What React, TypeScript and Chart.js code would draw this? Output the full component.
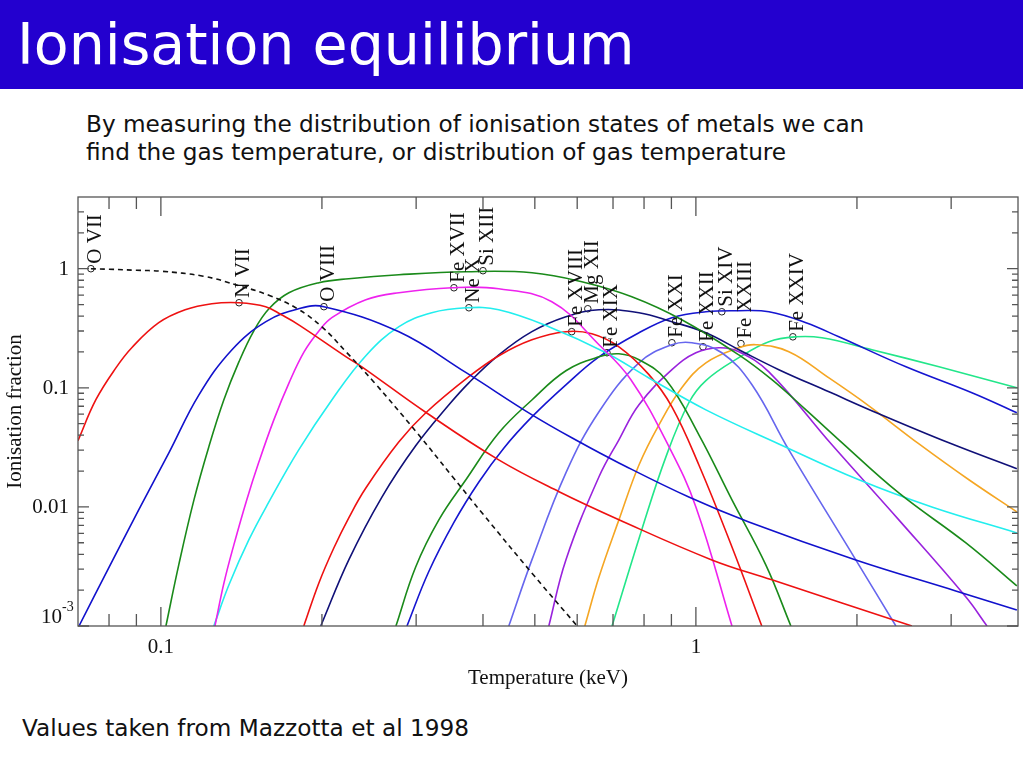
import React, { useEffect, useRef } from "react";
import { Chart, registerables } from "chart.js";
Chart.register(...registerables);

// Temperature (keV) and ionisation fraction for each ion (Mazzotta et al 1998)
const oviiT = [0.074, 0.08, 0.09, 0.1, 0.12, 0.14, 0.16, 0.18, 0.2, 0.222, 0.25, 0.3, 0.35, 0.4, 0.5, 0.6];
const oviiF = [1.0, 0.99, 0.97, 0.953, 0.865, 0.72, 0.593, 0.461, 0.325, 0.2, 0.112, 0.0428, 0.0182, 0.0087, 0.0026, 0.001];

const nviiT = [0.07, 0.0756, 0.0824, 0.0883, 0.0991, 0.111, 0.1245, 0.14, 0.157, 0.168, 0.181, 0.222, 0.2375, 0.313, 0.428, 0.555, 0.718, 1.071, 1.387, 2.534];
const nviiF = [0.036, 0.0794, 0.147, 0.218, 0.352, 0.452, 0.508, 0.518, 0.48, 0.41, 0.338, 0.182, 0.15, 0.062, 0.0248, 0.0134, 0.0078, 0.00359, 0.00244, 0.001];

const oviiiT = [0.0703, 0.0799, 0.0909, 0.1035, 0.1178, 0.1358, 0.1572, 0.181, 0.2017, 0.2786, 0.372, 0.494, 0.605, 0.718, 0.97, 1.256, 1.99, 3.06, 3.98];
const oviiiF = [0.001, 0.00307, 0.00944, 0.0284, 0.0873, 0.209, 0.359, 0.461, 0.48, 0.295, 0.134, 0.0593, 0.0352, 0.0234, 0.0121, 0.00748, 0.00359, 0.00197, 0.00136];

const sixiiiT = [0.1022, 0.108, 0.1153, 0.1229, 0.1311, 0.1399, 0.1492, 0.1592, 0.1735, 0.1974, 0.2245, 0.2786, 0.372, 0.494, 0.612, 0.759, 0.941, 1.203, 1.387, 1.606, 1.85, 2.395, 3.197, 3.98];
const sixiiiF = [0.001, 0.00326, 0.01145, 0.0319, 0.079, 0.165, 0.301, 0.461, 0.628, 0.763, 0.824, 0.89, 0.944, 0.926, 0.778, 0.582, 0.373, 0.189, 0.117, 0.0653, 0.0366, 0.0131, 0.00498, 0.00217];

const fexviiT = [0.1262, 0.1312, 0.1369, 0.1447, 0.1525, 0.1626, 0.1736, 0.1853, 0.1974, 0.2087, 0.2416, 0.2786, 0.35, 0.428, 0.538, 0.659, 0.756, 0.891, 1.0, 1.168];
const fexviiF = [0.001, 0.0023, 0.0048, 0.01145, 0.0239, 0.0538, 0.11, 0.201, 0.3, 0.388, 0.549, 0.629, 0.692, 0.679, 0.528, 0.23, 0.117, 0.0319, 0.01, 0.001];

const nexT = [0.1256, 0.134, 0.146, 0.1592, 0.181, 0.2087, 0.2416, 0.2786, 0.3208, 0.372, 0.428, 0.531, 0.679, 0.817, 1.044, 1.429, 2.017, 2.761, 3.98];
const nexF = [0.001, 0.00221, 0.00528, 0.011, 0.0301, 0.079, 0.186, 0.326, 0.427, 0.47, 0.452, 0.326, 0.197, 0.121, 0.0653, 0.0338, 0.0169, 0.01, 0.00605];

const fexviiiT = [0.185, 0.1974, 0.2105, 0.2245, 0.2416, 0.2786, 0.3128, 0.3764, 0.4283, 0.4937, 0.5715, 0.639, 0.718, 0.817, 0.902, 1.013, 1.168, 1.328];
const fexviiiF = [0.001, 0.0023, 0.00452, 0.0081, 0.0144, 0.0352, 0.0617, 0.124, 0.186, 0.253, 0.296, 0.284, 0.221, 0.129, 0.0692, 0.0225, 0.00461, 0.001];

const mgxiiT = [0.199, 0.2245, 0.2589, 0.2994, 0.3455, 0.3764, 0.4283, 0.4937, 0.5715, 0.659, 0.7827, 0.902, 1.044, 1.203, 1.429, 1.773, 2.198, 2.971, 3.98];
const mgxiiF = [0.001, 0.00359, 0.0121, 0.0326, 0.072, 0.11, 0.189, 0.296, 0.395, 0.452, 0.427, 0.359, 0.29, 0.209, 0.142, 0.0925, 0.0605, 0.0345, 0.0209];

const fexixT = [0.275, 0.2994, 0.3308, 0.3716, 0.4283, 0.4937, 0.5715, 0.659, 0.718, 0.7827, 0.879, 1.013, 1.168, 1.351, 1.505];
const fexixF = [0.001, 0.00313, 0.00778, 0.0169, 0.0419, 0.079, 0.139, 0.182, 0.193, 0.172, 0.117, 0.0403, 0.01145, 0.00326, 0.001];

const sixivT = [0.2884, 0.3165, 0.3534, 0.393, 0.4378, 0.4937, 0.5715, 0.659, 0.7827, 0.902, 1.044, 1.203, 1.369, 1.606, 1.85, 2.47, 3.28, 3.98];
const sixivF = [0.001, 0.00284, 0.00748, 0.0162, 0.0313, 0.057, 0.106, 0.182, 0.29, 0.388, 0.435, 0.444, 0.435, 0.352, 0.268, 0.15, 0.0908, 0.0617];

const fexxiT = [0.447, 0.4937, 0.5715, 0.659, 0.7827, 0.902, 0.983, 1.118, 1.273, 1.492, 1.99, 2.365];
const fexxiF = [0.001, 0.00359, 0.0193, 0.063, 0.162, 0.23, 0.239, 0.197, 0.106, 0.0301, 0.00359, 0.001];

const fexxiiT = [0.531, 0.5715, 0.659, 0.718, 0.7827, 0.902, 1.0, 1.104, 1.203, 1.369, 1.796, 2.395, 3.197, 3.5];
const fexxiiF = [0.001, 0.00359, 0.0179, 0.0366, 0.072, 0.142, 0.197, 0.217, 0.201, 0.136, 0.0332, 0.00778, 0.00175, 0.001];

const fexxiiiT = [0.62, 0.659, 0.718, 0.7827, 0.853, 0.941, 1.044, 1.203, 1.295, 1.492, 1.773, 2.105, 2.612, 3.238, 3.98];
const fexxiiiF = [0.001, 0.00258, 0.00778, 0.0225, 0.0489, 0.1, 0.162, 0.217, 0.23, 0.201, 0.121, 0.0706, 0.0338, 0.0169, 0.00908];

const fexxivT = [0.697, 0.792, 0.879, 0.97, 1.044, 1.203, 1.369, 1.538, 1.72, 2.133, 2.847, 3.98];
const fexxivF = [0.001, 0.00641, 0.0263, 0.0749, 0.115, 0.179, 0.244, 0.268, 0.263, 0.209, 0.15, 0.1];

// Ion labels at their peak markers
const labelNames = ["O VII", "N VII", "O VIII", "Fe XVII", "Ne X", "Si XIII", "Fe XVIII", "Mg XII", "Fe XIX", "Fe XXI", "Fe XXII", "Si XIV", "Fe XXIII", "Fe XXIV"];
const labelT = [0.074, 0.14, 0.2017, 0.353, 0.3765, 0.4, 0.586, 0.628, 0.682, 0.902, 1.031, 1.118, 1.214, 1.518];
const labelF = [1.0, 0.518, 0.48, 0.692, 0.47, 0.962, 0.296, 0.461, 0.197, 0.239, 0.221, 0.435, 0.235, 0.268];

// Axis ticks
const xMajor = [0.1, 1];
const xMinor = [0.08, 0.09, 0.2, 0.3, 0.4, 0.5, 0.6, 0.7, 0.8, 0.9, 2, 3];
const xTickLabels = ["0.1", "1"];
const yMajor = [0.001, 0.01, 0.1, 1];
const yMinor = [0.002, 0.003, 0.004, 0.005, 0.006, 0.007, 0.008, 0.009, 0.02, 0.03, 0.04, 0.05, 0.06, 0.07, 0.08, 0.09, 0.2, 0.3, 0.4, 0.5, 0.6, 0.7, 0.8, 0.9, 2, 3];
const yTickLabels = ["10|-3", "0.01", "0.1", "1"];

const series = [
  { T: oviiT, F: oviiF, color: "#111111", dash: [5, 4] },
  { T: nviiT, F: nviiF, color: "#ee1111" },
  { T: oviiiT, F: oviiiF, color: "#1111cc" },
  { T: sixiiiT, F: sixiiiF, color: "#1a8a1a" },
  { T: fexviiT, F: fexviiF, color: "#ee22ee" },
  { T: nexT, F: nexF, color: "#22eeee" },
  { T: fexviiiT, F: fexviiiF, color: "#ee1111" },
  { T: mgxiiT, F: mgxiiF, color: "#101078" },
  { T: fexixT, F: fexixF, color: "#1a8a1a" },
  { T: sixivT, F: sixivF, color: "#1515d0" },
  { T: fexxiT, F: fexxiF, color: "#6666ee" },
  { T: fexxiiT, F: fexxiiF, color: "#9922dd" },
  { T: fexxiiiT, F: fexxiiiF, color: "#f5a623" },
  { T: fexxivT, F: fexxivF, color: "#22e68a" },
];

const SERIF = '"Liberation Serif", "Times New Roman", serif';

const axesPlugin = {
  id: "axesPlugin",
  afterDatasetsDraw(chart: any) {
    const { ctx, chartArea: a, scales } = chart;
    const xs = scales.x;
    const ys = scales.y;
    ctx.save();
    // ion labels
    ctx.fillStyle = "#111";
    ctx.font = "21px " + SERIF;
    labelNames.forEach((n, i) => {
      const px = xs.getPixelForValue(labelT[i]);
      const py = ys.getPixelForValue(labelF[i]);
      ctx.save();
      ctx.translate(px + 10, py - 5);
      ctx.rotate(-Math.PI / 2);
      ctx.textAlign = "left";
      ctx.textBaseline = "alphabetic";
      ctx.fillText(n, 0, 0);
      ctx.restore();
    });
    // frame
    ctx.strokeStyle = "#555";
    ctx.lineWidth = 1.3;
    ctx.strokeRect(a.left, a.top, a.right - a.left, a.bottom - a.top);
    ctx.beginPath();
    const xt = (v: number, len: number) => {
      const p = xs.getPixelForValue(v);
      ctx.moveTo(p, a.bottom);
      ctx.lineTo(p, a.bottom - len);
      ctx.moveTo(p, a.top);
      ctx.lineTo(p, a.top + len);
    };
    const yt = (v: number, len: number) => {
      const p = ys.getPixelForValue(v);
      ctx.moveTo(a.left, p);
      ctx.lineTo(a.left + len, p);
      ctx.moveTo(a.right, p);
      ctx.lineTo(a.right - len, p);
    };
    xMajor.forEach((v) => xt(v, 19));
    xMinor.forEach((v) => xt(v, 12));
    yMajor.forEach((v) => yt(v, 11));
    yMinor.forEach((v) => yt(v, 6));
    ctx.stroke();
    // tick labels
    ctx.fillStyle = "#111";
    ctx.font = "21px " + SERIF;
    ctx.textAlign = "center";
    ctx.textBaseline = "middle";
    xMajor.forEach((v, i) => {
      ctx.fillText(xTickLabels[i], xs.getPixelForValue(v), a.bottom + 21);
    });
    ctx.textAlign = "right";
    yMajor.forEach((v, i) => {
      const lbl = yTickLabels[i];
      const p = ys.getPixelForValue(v);
      if (lbl.includes("|")) {
        const [base, exp] = lbl.split("|");
        ctx.font = "21px " + SERIF;
        ctx.textAlign = "right";
        ctx.fillText(base, a.left - 16, p - 9);
        ctx.font = "14px " + SERIF;
        ctx.textAlign = "left";
        ctx.fillText(exp, a.left - 16, p - 19);
        ctx.font = "21px " + SERIF;
        ctx.textAlign = "right";
      } else {
        ctx.fillText(lbl, a.left - 9, p + 1);
      }
    });
    // axis titles
    ctx.textAlign = "center";
    ctx.fillText("Temperature (keV)", (a.left + a.right) / 2, a.bottom + 52);
    ctx.save();
    ctx.translate(15, (a.top + a.bottom) / 2);
    ctx.rotate(-Math.PI / 2);
    ctx.fillText("Ionisation fraction", 0, 0);
    ctx.restore();
    ctx.restore();
  },
};

export default function App() {
  const ref = useRef<HTMLCanvasElement>(null);
  useEffect(() => {
    const datasets: any[] = series.map((s) => ({
      data: s.T.map((t, i) => ({ x: t, y: s.F[i] })),
      borderColor: s.color,
      borderWidth: 1.6,
      borderDash: s.dash || [],
      pointRadius: 0,
      fill: false,
      tension: 0.4,
    }));
    datasets.push({
      data: labelT.map((t, i) => ({ x: t, y: labelF[i] })),
      showLine: false,
      pointRadius: 3.3,
      pointBorderWidth: 1,
      pointBorderColor: "#222",
      pointBackgroundColor: "rgba(255,255,255,0)",
    });
    const chart = new Chart(ref.current as HTMLCanvasElement, {
      type: "line",
      data: { datasets },
      options: {
        animation: false,
        responsive: false,
        layout: { padding: { left: 78, right: 5, top: 7, bottom: 74 } },
        plugins: { legend: { display: false }, tooltip: { enabled: false } },
        scales: {
          x: { type: "logarithmic", min: 0.07, max: 4, display: false },
          y: { type: "logarithmic", min: 0.001, max: 4, display: false },
        },
      },
      plugins: [axesPlugin],
    } as any);
    return () => chart.destroy();
  }, []);
  return (
    <div style={{ position: "absolute", left: 0, top: 0, width: 1023, height: 767, overflow: "hidden", background: "#fff" }}>
      <div style={{ position: "absolute", left: 0, top: 0, width: 1023, height: 89, background: "#2300cf" }} />
      <div style={{ position: "absolute", left: 17, top: 16, font: '57px "DejaVu Sans"', lineHeight: "57px", color: "#fff", whiteSpace: "nowrap" }}>
        Ionisation equilibrium
      </div>
      <div style={{ position: "absolute", left: 86, top: 110, font: '23.2px "DejaVu Sans"', lineHeight: "28px", color: "#111", whiteSpace: "nowrap" }}>
        By measuring the distribution of ionisation states of metals we can
        <br />
        find the gas temperature, or distribution of gas temperature
      </div>
      <div style={{ position: "absolute", left: 22, top: 716, font: '23.2px "DejaVu Sans"', lineHeight: "24px", color: "#111", whiteSpace: "nowrap" }}>
        Values taken from Mazzotta et al 1998
      </div>
      <canvas ref={ref} width={1023} height={510} style={{ position: "absolute", left: 0, top: 190, width: 1023, height: 510 }} />
    </div>
  );
}
